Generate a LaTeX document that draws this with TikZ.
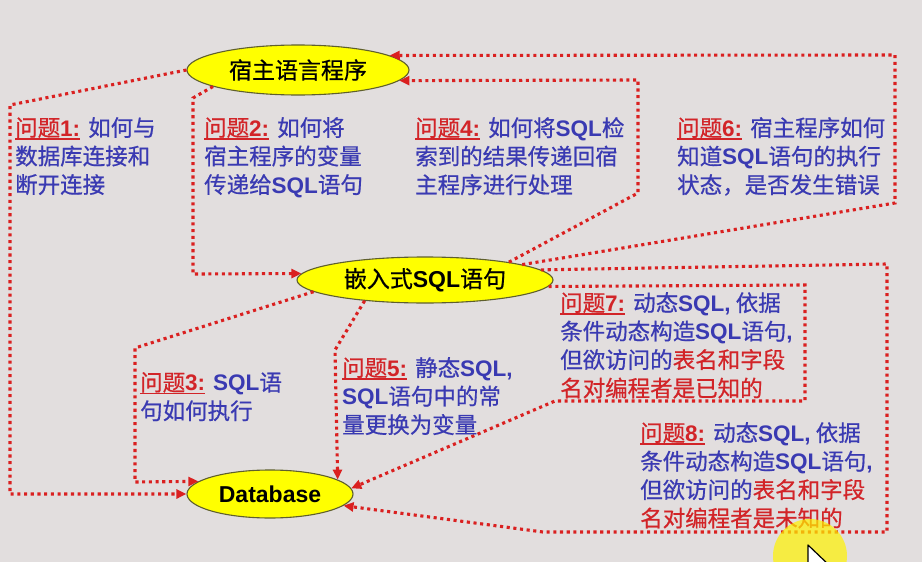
\documentclass[tikz,border=0pt]{standalone}
\usepackage{fontspec}
\setmainfont{Noto Sans CJK SC}
\newfontfamily\cjkheavy{Noto Sans CJK SC}[FakeBold=0.6]
\newfontfamily\arial{Liberation Sans}
\usetikzlibrary{shapes.geometric,arrows.meta}

\definecolor{bgcol}{RGB}{226,222,222}
\definecolor{lnred}{RGB}{218,32,32}
\definecolor{qred}{RGB}{210,36,40}
\definecolor{qblue}{RGB}{58,58,178}
\definecolor{ellfill}{RGB}{255,255,0}
\definecolor{ellline}{RGB}{95,95,45}

% bold latin word inside CJK text
\newcommand\sqlw{{\arial\bfseries SQL}}
\newcommand\lat[1]{{\arial\bfseries #1}}
% red underlined question label
\newcommand\qlabel[1]{\textcolor{qred}{\setbox0\hbox{问题\lat{#1:}}\rlap{\rule[-3.5pt]{\wd0}{1.4pt}}\box0}\hspace{8pt}}
\newcommand\rd[1]{\textcolor{qred}{#1}}

\tikzset{
  ell/.style={ellipse, draw=ellline, line width=1.1pt, fill=ellfill,
    inner sep=0pt, text=black, font=\cjkheavy\fontsize{23}{23}\selectfont},
  qtext/.style={anchor=north west, align=left, inner sep=0pt, text=qblue,
    font=\cjkheavy\fontsize{22.5}{28.5}\selectfont},
  conn/.style={draw=lnred, line width=3.1pt, dash pattern=on 3.1pt off 3.6pt,
    -{Triangle[length=10pt,width=9pt,fill=lnred]}},
}

\begin{document}
\begin{tikzpicture}[x=1pt,y=-1pt]
  \useasboundingbox (0,0) rectangle (922,562);
  \fill[bgcol] (0,0) rectangle (922,562);

  % programs and database
  \node[ell, minimum width=222pt, minimum height=50pt] (host) at (298,70) {宿主语言程序};
  \node[ell, minimum width=256pt, minimum height=46pt] (emb) at (425,280) {嵌入式\lat{SQL}语句};
  \node[ell, minimum width=166pt, minimum height=48pt] (db) at (270,494) {\lat{Database}};

  % bend points of the connectors
  \coordinate (a1) at (10,105);   \coordinate (a2) at (10,494);
  \coordinate (b1) at (193,98);   \coordinate (b2) at (193,274);
  \coordinate (c1) at (135,348);  \coordinate (c2) at (135,482);
  \coordinate (d1) at (638,193);  \coordinate (d2) at (638,80);
  \coordinate (e1) at (335,350);
  \coordinate (f1) at (895,203);  \coordinate (f2) at (895,55);
  \coordinate (g1) at (805,285);  \coordinate (g2) at (805,401);  \coordinate (g3) at (555,401);
  \coordinate (h1) at (887,264);  \coordinate (h2) at (887,532);  \coordinate (h3) at (543,532);

  % connectors
  \draw[conn] (host.west) -- (a1) -- (a2) -- (db.west);
  \draw[conn] (host.191.6) -- (b1) -- (b2) -- (emb.177.2);
  \draw[conn] (emb.186.3) -- (c1) -- (c2) -- (db.170.5);
  \draw[conn] (emb.12.2) -- (d1) -- (d2) -- (host.354.4);
  \draw[conn] (emb.199.5) -- (e1) -- (db.12.9);
  \draw[conn] (emb.9) -- (f1) -- (f2) -- (host.9.6);
  \draw[conn] (emb.357.7) -- (g1) -- (g2) -- (g3) -- (db.4.3);
  \draw[conn] (emb.5) -- (h1) -- (h2) -- (h3) -- (db.351.5);

  % questions
  \node[qtext] (q1) at (15,117) {\qlabel{1}如何与\\数据库连接和\\断开连接};
  \node[qtext] (q2) at (204,117) {\qlabel{2}如何将\\宿主程序的变量\\传递给\sqlw 语句};
  \node[qtext] (q4) at (415,117) {\qlabel{4}如何将\sqlw 检\\索到的结果传递回宿\\主程序进行处理};
  \node[qtext] (q6) at (677,117) {\qlabel{6}宿主程序如何\\知道\sqlw 语句的执行\\状态，是否发生错误};
  \node[qtext] (q3) at (140,372) {\qlabel{3}\sqlw 语\\句如何执行};
  \node[qtext] (q5) at (342,357) {\qlabel{5}静态\lat{SQL,}\\\sqlw 语句中的常\\量更换为变量};
  \node[qtext] (q7) at (560,292) {\qlabel{7}动态\lat{SQL,} 依据\\条件动态构造\sqlw 语句\lat{,}\\但欲访问的\rd{表名和字段}\\\rd{名对编程者是已知的}};
  \node[qtext] (q8) at (640,422) {\qlabel{8}动态\lat{SQL,} 依据\\条件动态构造\sqlw 语句\lat{,}\\但欲访问的\rd{表名和字段}\\\rd{名对编程者是未知的}};

  % pointer with its highlight
  \fill[yellow, opacity=0.7] (810,556) circle (37);
  \draw[black, line width=1.2pt, fill=white, line join=round]
    (808,545) -- (808,575) -- (815,568) -- (820,579) -- (825,577) -- (820,566) -- (830,566) -- cycle;
\end{tikzpicture}
\end{document}
